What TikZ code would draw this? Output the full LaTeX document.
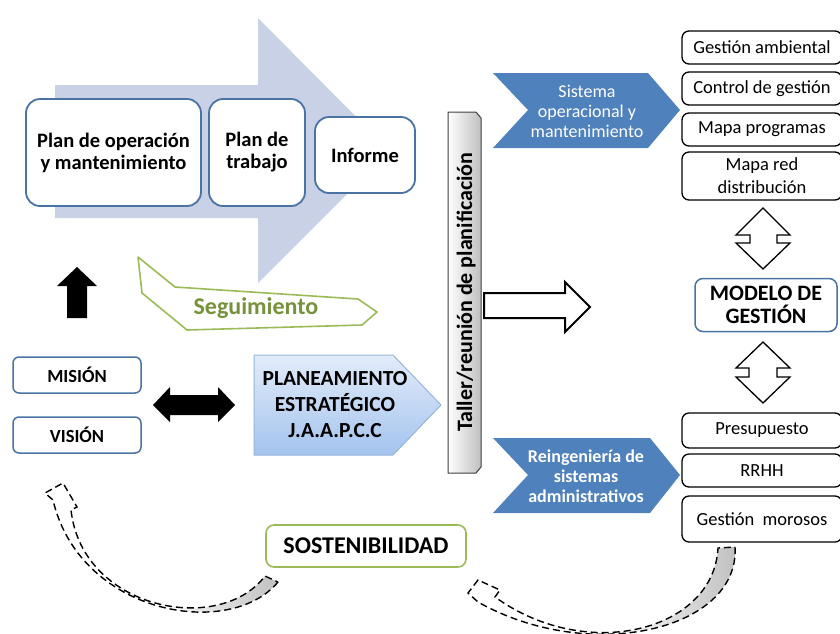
\documentclass[tikz,border=0pt]{standalone}
\usepackage{fontspec}
\setmainfont{Carlito}
\usetikzlibrary{positioning}
\definecolor{bigarrow}{RGB}{200,209,230}
\definecolor{boxblue}{RGB}{74,115,163}
\definecolor{chevblue}{RGB}{79,129,189}
\definecolor{okgreen}{RGB}{155,187,89}
\definecolor{darkgreen}{RGB}{118,146,60}
\definecolor{planlight}{RGB}{226,236,250}
\definecolor{plandark}{RGB}{164,195,238}
\definecolor{planedge}{RGB}{150,180,220}

\tikzset{
  planbox/.style={draw=boxblue, line width=1.8pt, rounded corners=14pt, fill=white, align=center, inner sep=0pt, font=\fontsize{20.5}{22}\selectfont\bfseries},
  mvbox/.style={draw=boxblue, line width=1.5pt, rounded corners=6pt, fill=white, minimum width=128pt, minimum height=36pt, inner sep=0pt, font=\fontsize{18.5}{20}\selectfont\bfseries},
  listbox/.style={draw=black, line width=1.3pt, rounded corners=7pt, fill=white, minimum width=160pt, align=center, inner sep=0pt, font=\fontsize{18.5}{23}\selectfont},
  chevtext/.style={text=white, align=center, font=\fontsize{18}{20}\selectfont},
  updown/.style={draw=black, line width=1.3pt, fill=white, line join=miter},
  dashband/.style={draw=black, line width=1.4pt, dash pattern=on 7pt off 4pt, left color=white, right color=black!25, middle color=white},
}

\begin{document}
\begin{tikzpicture}[x=1pt,y=-1pt]
\useasboundingbox (0,0) rectangle (840,633);
\clip (0,0) rectangle (840,633);

\fill[bigarrow] (55,85) -- (258,85) -- (258,18) -- (390,151) -- (258,283) -- (258,218) -- (55,218) -- cycle;

\node[planbox, minimum width=175pt, minimum height=107pt] (opplan) at (113.5,152.5) {Plan de operación\\y mantenimiento};
\node[planbox, minimum width=96pt, minimum height=107pt] (workplan) at (257,152.5) {Plan de\\trabajo};
\node[planbox, minimum width=100pt, minimum height=76pt] (report) at (365,155) {Informe};

\fill (57,286) -- (77,267) -- (97,286) -- (87,286) -- (87,318) -- (67,318) -- (67,286) -- cycle;

\draw[okgreen, line width=1.6pt, fill=white, line join=round] (138,257) -- (175,287) -- (358,299) -- (377,312) -- (362,325) -- (187,330) -- (142,293) -- cycle;
\node[text=darkgreen, font=\fontsize{24}{26}\selectfont\bfseries] (follow) at (256,308) {Seguimiento};

\node[mvbox] (mision) at (77,375) {MISIÓN};
\node[mvbox] (vision) at (77,435) {VISIÓN};

\fill (153,405) -- (170,387) -- (170,395) -- (218,395) -- (218,387) -- (235,405) -- (218,422) -- (218,415) -- (170,415) -- (170,422) -- cycle;

\draw[planedge, line width=1pt, top color=planlight, bottom color=plandark] (254,355) -- (393,355) -- (441,405) -- (393,455) -- (254,455) -- cycle;
\node[align=center, font=\fontsize{21.5}{26}\selectfont\bfseries] (strategic) at (335,405) {PLANEAMIENTO\\ESTRATÉGICO\\J.A.A.P.C.C};

\draw[black!75, line width=1pt, left color=white, right color=black!25] (448,112) -- (476,112) -- (481,118) -- (481,467) -- (476,473) -- (448,473) -- cycle;
\node[rotate=90, font=\fontsize{22}{24}\selectfont\bfseries] (meeting) at (466,292) {Taller/reunión de planificación};

\draw[line width=2pt, fill=white, line join=miter] (484,293) -- (565,293) -- (565,282) -- (590,307) -- (565,332) -- (565,318) -- (484,318) -- cycle;

\fill[chevblue] (493,73) -- (648,73) -- (680,110) -- (648,148) -- (493,148) -- (528,110) -- cycle;
\node[chevtext] (opsys) at (587,111) {Sistema\\operacional y\\mantenimiento};
\fill[chevblue] (493,438) -- (650,438) -- (680,475) -- (650,513) -- (493,513) -- (528,475) -- cycle;
\node[chevtext, font=\fontsize{18}{20}\selectfont\bfseries] (adminsys) at (586,476) {Reingeniería de\\sistemas\\administrativos};

\node[listbox, minimum height=33pt] (envir) at (762,47.5) {Gestión ambiental};
\node[listbox, minimum height=33pt] (control) at (762,88.5) {Control de gestión};
\node[listbox, minimum height=33pt] (progmap) at (762,129.5) {Mapa programas};
\node[listbox, minimum height=48pt] (netmap) at (762,176) {Mapa red\\distribución};

\draw[updown] (763,208) -- (790,235) -- (777,235) -- (777,243) -- (790,243) -- (763,269) -- (736,243) -- (750,243) -- (750,235) -- (736,235) -- cycle;

\node[draw=boxblue, line width=1.5pt, rounded corners=8pt, minimum width=142pt, minimum height=53pt, align=center, font=\fontsize{22}{23}\selectfont\bfseries] (model) at (766,305) {MODELO DE\\GESTIÓN};

\draw[updown] (763,342) -- (790,368) -- (777,368) -- (777,377) -- (790,377) -- (763,403) -- (736,377) -- (749,377) -- (749,368) -- (736,368) -- cycle;

\node[listbox, minimum height=35pt] (budget) at (762,430.5) {Presupuesto};
\node[listbox, minimum height=33pt] (staff) at (762,470.5) {RRHH};
\node[listbox, minimum height=46pt] (debtors) at (762,519) {Gestión~ morosos};

\node[draw=okgreen, line width=1.6pt, rounded corners=8pt, minimum width=200pt, minimum height=42pt, fill=white, font=\fontsize{24}{26}\selectfont\bfseries] (sustain) at (366,546) {SOSTENIBILIDAD};

\draw[dashband] (278,582) .. controls (230,640) and (80,615) .. (53,500) -- (45,493) -- (63,483) -- (77,507) -- (71,510) .. controls (82,610) and (220,636) .. (265,576) -- cycle;
\draw[dashband] (735,547) .. controls (740,630) and (590,665) .. (478,602) -- (468,593) -- (478,580) -- (500,590) -- (495,597) .. controls (588,664) and (714,630) .. (718,548) -- cycle;
\end{tikzpicture}
\end{document}
